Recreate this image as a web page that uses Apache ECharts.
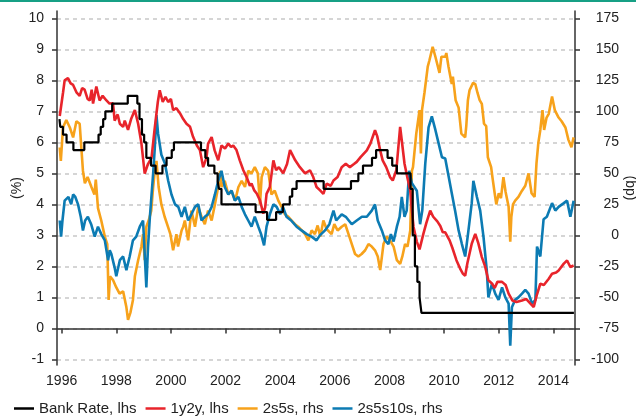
<!DOCTYPE html>
<html>
<head>
<meta charset="utf-8">
<script src="https://cdn.jsdelivr.net/npm/echarts@6/dist/echarts.min.js"></script>
<style>
  html, body { margin: 0; padding: 0; background: #fff; }
  #chart { width: 636px; height: 418px; }
</style>
</head>
<body>
<div id="chart"></div>
<script>
// x ticks (years) and y ticks
const yearTicks = [1996, 1998, 2000, 2002, 2004, 2006, 2008, 2010, 2012, 2014];
const lhsTicks = [-1, 0, 1, 2, 3, 4, 5, 6, 7, 8, 9, 10];
const rhsTicks = [-100, -75, -50, -25, 0, 25, 50, 75, 100, 125, 150, 175];

// Bank Rate, % (lhs) - [year, value], value holds until next change
const bankRate = [
  [1995.92, 6.75], [1995.95, 6.5], [1996.05, 6.25], [1996.18, 6.0], [1996.43, 5.75],
  [1996.83, 6.0], [1997.35, 6.25], [1997.43, 6.5], [1997.52, 6.75], [1997.6, 7.0],
  [1997.85, 7.25], [1998.42, 7.5], [1998.77, 7.25], [1998.85, 6.75], [1998.94, 6.25],
  [1999.02, 6.0], [1999.1, 5.5], [1999.27, 5.25], [1999.44, 5.0], [1999.69, 5.25],
  [1999.84, 5.5], [2000.03, 5.75], [2000.11, 6.0], [2001.1, 5.75], [2001.26, 5.5],
  [2001.36, 5.25], [2001.59, 5.0], [2001.71, 4.75], [2001.76, 4.5], [2001.85, 4.0],
  [2003.1, 3.75], [2003.52, 3.5], [2003.85, 3.75], [2004.1, 4.0], [2004.35, 4.25],
  [2004.44, 4.5], [2004.6, 4.75], [2005.59, 4.5], [2006.59, 4.75], [2006.86, 5.0],
  [2007.03, 5.25], [2007.36, 5.5], [2007.51, 5.75], [2007.93, 5.5], [2008.1, 5.25],
  [2008.27, 5.0], [2008.77, 4.5], [2008.85, 3.0], [2008.93, 2.0], [2009.02, 1.5],
  [2009.1, 1.0], [2009.17, 0.5], [2014.75, 0.5]
];

// 1y2y forward, % (lhs)
const oneYearTwoYear = [
  [1995.93, 6.85], [1996.05, 7.6], [1996.11, 8.0], [1996.23, 8.07], [1996.33, 7.9],
  [1996.42, 7.85], [1996.55, 7.6], [1996.66, 7.5], [1996.75, 7.75], [1996.84, 7.7],
  [1996.95, 7.4], [1997.03, 7.35], [1997.1, 7.7], [1997.15, 7.25], [1997.27, 7.8],
  [1997.39, 7.35], [1997.5, 7.5], [1997.64, 7.35], [1997.75, 7.25], [1997.88, 7.26],
  [1997.94, 6.7], [1998.05, 6.9], [1998.13, 6.6], [1998.25, 6.5], [1998.31, 6.7],
  [1998.43, 6.4], [1998.55, 6.77], [1998.68, 7.04], [1998.8, 6.6], [1998.92, 5.97],
  [1999.04, 4.99], [1999.16, 5.3], [1999.29, 5.5], [1999.4, 6.4], [1999.52, 7.3],
  [1999.59, 7.68], [1999.7, 7.3], [1999.8, 7.47], [1999.9, 7.3], [2000.0, 7.4],
  [2000.08, 7.04], [2000.2, 7.1], [2000.33, 6.94], [2000.45, 6.75], [2000.57, 6.6],
  [2000.7, 6.5], [2000.81, 6.18], [2000.95, 5.9], [2001.06, 5.75], [2001.18, 5.2],
  [2001.3, 5.5], [2001.36, 5.96], [2001.49, 6.17], [2001.6, 5.74], [2001.73, 5.42],
  [2001.85, 5.9], [2001.98, 5.8], [2002.1, 5.96], [2002.2, 5.85], [2002.28, 5.9],
  [2002.4, 5.75], [2002.52, 5.42], [2002.65, 5.1], [2002.77, 4.88], [2002.89, 4.6],
  [2002.95, 4.67], [2003.05, 4.45], [2003.14, 4.35], [2003.26, 4.13], [2003.38, 3.7],
  [2003.45, 3.9], [2003.5, 4.34], [2003.62, 4.56], [2003.75, 5.42], [2003.85, 5.1],
  [2003.95, 5.2], [2004.11, 5.0], [2004.25, 5.3], [2004.36, 5.75], [2004.42, 5.74],
  [2004.55, 5.42], [2004.72, 5.2], [2004.79, 5.2], [2004.91, 5.0], [2005.09, 5.1],
  [2005.2, 4.9], [2005.33, 4.56], [2005.46, 4.45], [2005.58, 4.34], [2005.7, 4.67],
  [2005.85, 4.6], [2005.95, 4.77], [2006.1, 4.88], [2006.25, 5.2], [2006.4, 5.31],
  [2006.55, 5.2], [2006.7, 5.3], [2006.8, 5.37], [2006.95, 5.53], [2007.17, 5.74],
  [2007.3, 5.96], [2007.47, 6.39], [2007.55, 6.2], [2007.66, 5.74], [2007.75, 5.42],
  [2007.88, 5.2], [2008.02, 4.88], [2008.12, 4.77], [2008.25, 5.1], [2008.39, 6.5],
  [2008.45, 6.06], [2008.55, 5.31], [2008.65, 4.88], [2008.76, 4.45], [2008.82, 3.8],
  [2008.88, 3.27], [2009.0, 2.8], [2009.1, 2.55], [2009.24, 3.05], [2009.35, 3.4],
  [2009.49, 3.8], [2009.6, 3.6], [2009.75, 3.45], [2009.86, 3.3], [2009.95, 3.1],
  [2010.04, 3.1], [2010.2, 2.84], [2010.3, 2.6], [2010.45, 2.2], [2010.6, 1.9],
  [2010.69, 1.76], [2010.77, 1.7], [2010.85, 2.1], [2011.01, 2.73], [2011.14, 3.05],
  [2011.25, 2.75], [2011.38, 2.3], [2011.5, 2.0], [2011.62, 1.55], [2011.75, 1.45],
  [2011.85, 1.3], [2011.95, 1.5], [2012.12, 1.5], [2012.25, 1.4], [2012.36, 1.12],
  [2012.5, 0.9], [2012.65, 0.85], [2012.85, 0.9], [2013.0, 0.95], [2013.16, 0.8],
  [2013.28, 0.69], [2013.4, 1.1], [2013.52, 1.44], [2013.65, 1.4], [2013.83, 1.6],
  [2013.95, 1.76], [2014.1, 1.8], [2014.19, 1.87], [2014.38, 2.09], [2014.5, 2.19],
  [2014.62, 1.98], [2014.74, 2.03]
];

// 2s5s slope, bp (rhs)
const twoFive = [
  [1995.93, 71], [1995.97, 60], [1996.05, 87], [1996.17, 93], [1996.3, 87],
  [1996.42, 79], [1996.54, 92], [1996.66, 90], [1996.72, 71], [1996.78, 52],
  [1996.85, 42], [1996.95, 47], [1997.09, 39], [1997.2, 33], [1997.25, 45],
  [1997.33, 22], [1997.45, 12], [1997.58, -1], [1997.67, -7], [1997.72, -52],
  [1997.77, -33], [1997.88, -36], [1998.0, -42], [1998.12, -47], [1998.25, -45],
  [1998.37, -58], [1998.43, -68], [1998.52, -62], [1998.61, -52], [1998.68, -33],
  [1998.8, -20], [1998.92, -9], [1998.98, 1], [1999.04, -20], [1999.1, 7],
  [1999.2, 13], [1999.28, 20], [1999.35, 39], [1999.41, 52], [1999.47, 60],
  [1999.55, 39], [1999.65, 25], [1999.77, 15], [1999.89, 7], [1999.98, 1],
  [2000.08, -12], [2000.2, 1], [2000.26, -9], [2000.39, 4], [2000.45, 7],
  [2000.51, 12], [2000.63, -4], [2000.75, 20], [2000.88, 7], [2001.0, 23],
  [2001.12, 15], [2001.24, 9], [2001.36, 20], [2001.49, 12], [2001.61, 25],
  [2001.73, 39], [2001.8, 52], [2001.85, 39], [2001.97, 44], [2002.1, 33],
  [2002.22, 36], [2002.35, 28], [2002.47, 39], [2002.59, 44], [2002.71, 39],
  [2002.83, 52], [2002.95, 50], [2003.07, 55], [2003.18, 50], [2003.26, 25],
  [2003.32, 47], [2003.44, 55], [2003.56, 52], [2003.68, 33], [2003.8, 36],
  [2003.93, 28], [2004.05, 23], [2004.17, 17], [2004.3, 15], [2004.42, 12],
  [2004.54, 9], [2004.66, 7], [2004.79, 4], [2004.91, 1], [2005.03, -4],
  [2005.15, 4], [2005.27, 1], [2005.37, 8], [2005.47, -1], [2005.58, 12],
  [2005.7, 5], [2005.88, 1], [2005.98, 9], [2006.1, 4], [2006.25, 7],
  [2006.38, 9], [2006.5, 1], [2006.62, -7], [2006.74, -15], [2006.86, -17],
  [2006.98, -15], [2007.11, -12], [2007.23, -7], [2007.35, -9], [2007.47, -12],
  [2007.57, -17], [2007.66, -28], [2007.78, -7], [2007.9, -1], [2008.02, -4],
  [2008.15, -9], [2008.27, -20], [2008.39, -23], [2008.47, -17], [2008.57, -7],
  [2008.66, -9], [2008.76, 4], [2008.82, 52], [2008.86, 55], [2008.98, 82],
  [2009.1, 101], [2009.15, 66], [2009.19, 101], [2009.28, 115], [2009.4, 136],
  [2009.46, 141], [2009.58, 152], [2009.68, 144], [2009.83, 131], [2009.9, 144],
  [2010.04, 144], [2010.08, 147], [2010.16, 136], [2010.28, 122], [2010.32, 128],
  [2010.42, 109], [2010.53, 103], [2010.63, 82], [2010.77, 79], [2010.81, 88],
  [2010.87, 109], [2010.93, 117], [2011.06, 123], [2011.14, 122], [2011.22, 115],
  [2011.3, 109], [2011.38, 106], [2011.46, 90], [2011.54, 88], [2011.6, 63],
  [2011.72, 55], [2011.78, 45], [2011.85, 34], [2011.91, 25], [2012.0, 34],
  [2012.08, 30], [2012.17, 47], [2012.25, 35], [2012.36, 23], [2012.42, -5],
  [2012.46, 15], [2012.52, 25], [2012.6, 28], [2012.72, 31], [2012.85, 36],
  [2012.97, 40], [2013.09, 50], [2013.2, 34], [2013.31, 31], [2013.38, 58],
  [2013.45, 75], [2013.52, 85], [2013.6, 101], [2013.66, 85], [2013.75, 95],
  [2013.83, 98], [2013.95, 112], [2014.05, 101], [2014.19, 95], [2014.3, 92],
  [2014.44, 87], [2014.55, 77], [2014.66, 71], [2014.74, 79]
];

// 2s5s10s butterfly, bp (rhs)
const twoFiveTen = [
  [1995.93, 12], [1995.98, -1], [1996.03, 12], [1996.11, 28], [1996.25, 31],
  [1996.35, 25], [1996.42, 33], [1996.5, 31], [1996.6, 25], [1996.7, 15],
  [1996.78, 4], [1996.86, 12], [1996.96, 15], [1997.08, 9], [1997.21, -1],
  [1997.33, 7], [1997.45, 1], [1997.58, -4], [1997.7, -20], [1997.76, -12],
  [1997.82, -15], [1997.94, -26], [1998.0, -33], [1998.13, -20], [1998.25, -17],
  [1998.37, -28], [1998.49, -17], [1998.61, -4], [1998.73, -1], [1998.86, 7],
  [1998.98, 12], [1999.1, -42], [1999.16, -10], [1999.23, 15], [1999.35, 50],
  [1999.41, 71], [1999.47, 97], [1999.53, 82], [1999.65, 65], [1999.78, 58],
  [1999.9, 44], [2000.02, 33], [2000.15, 25], [2000.27, 23], [2000.39, 15],
  [2000.51, 23], [2000.63, 12], [2000.75, 17], [2000.88, 23], [2001.0, 25],
  [2001.12, 12], [2001.24, 15], [2001.36, 17], [2001.49, 23], [2001.61, 33],
  [2001.73, 44], [2001.85, 52], [2001.97, 39], [2002.1, 33], [2002.22, 36],
  [2002.34, 28], [2002.47, 31], [2002.59, 23], [2002.71, 17], [2002.83, 12],
  [2002.95, 7], [2003.07, 15], [2003.2, 7], [2003.3, 1], [2003.41, -8],
  [2003.5, 7], [2003.62, 17], [2003.75, 25], [2003.87, 23], [2004.0, 17],
  [2004.1, 23], [2004.23, 15], [2004.4, 12], [2004.6, 7], [2004.78, 4],
  [2004.97, 1], [2005.15, -1], [2005.33, -4], [2005.45, 0], [2005.64, 4],
  [2005.8, 9], [2005.95, 20], [2006.05, 12], [2006.25, 17], [2006.4, 15],
  [2006.62, 9], [2006.8, 12], [2006.99, 15], [2007.17, 15], [2007.35, 20],
  [2007.47, 25], [2007.57, 12], [2007.72, 4], [2007.84, -4], [2007.96, -7],
  [2008.05, 1], [2008.15, -5], [2008.27, 7], [2008.37, 15], [2008.45, 31],
  [2008.55, 15], [2008.63, 20], [2008.72, 52], [2008.82, 42], [2009.0, 36],
  [2009.12, 9], [2009.2, 20], [2009.31, 58], [2009.43, 87], [2009.55, 96],
  [2009.68, 85], [2009.8, 74], [2009.92, 63], [2010.04, 62], [2010.16, 48],
  [2010.28, 34], [2010.4, 20], [2010.53, 4], [2010.65, -7], [2010.77, -17],
  [2010.89, 4], [2011.01, 26], [2011.07, 44], [2011.2, 31], [2011.32, 20],
  [2011.44, -1], [2011.56, -28], [2011.62, -50], [2011.75, -39], [2011.87, -47],
  [2011.99, -52], [2012.12, -42], [2012.24, -50], [2012.36, -55], [2012.42, -89],
  [2012.48, -58], [2012.6, -52], [2012.72, -50], [2012.85, -47], [2012.97, -44],
  [2013.09, -47], [2013.22, -55], [2013.34, -52], [2013.4, -9], [2013.52, -17],
  [2013.64, 13], [2013.76, 15], [2013.95, 26], [2014.07, 20], [2014.19, 23],
  [2014.38, 26], [2014.5, 28], [2014.62, 15], [2014.74, 28]
];

const chart = echarts.init(document.getElementById('chart'));

const axisCol = '#333';
const lbl = { color: '#222', fontSize: 14, fontFamily: 'Liberation Sans, Arial, sans-serif' };

function lineSeries(name, data, color, axis, extra) {
  return Object.assign({
    name: name,
    type: 'line',
    yAxisIndex: axis,
    data: data,
    showSymbol: false,
    symbol: 'none',
    lineStyle: { color: color, width: 2.6 },
    itemStyle: { color: color },
    animation: false
  }, extra || {});
}

chart.setOption({
  animation: false,
  backgroundColor: '#fff',
  graphic: [{
    type: 'rect', left: 0, top: 0,
    shape: { width: 636, height: 2 },
    style: { fill: '#17a085' }
  }],
  grid: { left: 57, right: 61, top: 11, bottom: 53, containLabel: false, outerBoundsMode: 'none' },
  legend: {
    left: 14, top: 401, padding: 0,
    icon: 'rect', itemWidth: 20, itemHeight: 2.5, itemGap: 9,
    textStyle: { color: '#222', fontSize: 15, fontFamily: 'Liberation Sans, Arial, sans-serif' },
    data: ['Bank Rate, lhs', '1y2y, lhs', '2s5s, rhs', '2s5s10s, rhs']
  },
  xAxis: {
    type: 'value',
    min: 1995.83,
    max: 2014.79,
    axisLine: { lineStyle: { color: axisCol, width: 1.5 } },
    axisTick: { length: 5, lineStyle: { color: axisCol, width: 1.5 }, customValues: yearTicks },
    axisLabel: Object.assign({ margin: 9, customValues: yearTicks, formatter: v => String(v) }, lbl),
    splitLine: { show: false }
  },
  yAxis: [{
    type: 'value',
    min: -1.18,
    max: 10.235,
    name: '(%)',
    nameLocation: 'middle',
    nameRotate: 90,
    nameGap: 33,
    nameMoveOverlap: false,
    nameTextStyle: lbl,
    axisLine: { show: true, lineStyle: { color: axisCol, width: 1.5 } },
    axisTick: { show: true, length: 5, lineStyle: { color: axisCol, width: 1.5 }, customValues: lhsTicks },
    axisLabel: Object.assign({ margin: 13, customValues: lhsTicks }, lbl),
    splitLine: { show: true, lineStyle: { color: '#c8c8c8', width: 1.5, type: [4, 4] } }
  }, {
    type: 'value',
    min: -104.5,
    max: 180.9,
    name: '(bp)',
    nameLocation: 'middle',
    nameRotate: -90,
    nameGap: 48,
    nameMoveOverlap: false,
    nameTextStyle: lbl,
    axisLine: { show: true, lineStyle: { color: axisCol, width: 1.5 } },
    axisTick: { show: true, length: 5, lineStyle: { color: axisCol, width: 1.5 }, customValues: rhsTicks },
    axisLabel: Object.assign({ margin: 44, align: 'right', customValues: rhsTicks }, lbl),
    splitLine: { show: false }
  }],
  series: [
    lineSeries('2s5s, rhs', twoFive, '#f7a21b', 1),
    lineSeries('2s5s10s, rhs', twoFiveTen, '#0c7bb3', 1),
    lineSeries('1y2y, lhs', oneYearTwoYear, '#e8242b', 0),
    lineSeries('Bank Rate, lhs', bankRate, '#000000', 0, { step: 'end', lineStyle: { color: '#000', width: 2.2 } })
  ]
});
</script>
</body>
</html>
